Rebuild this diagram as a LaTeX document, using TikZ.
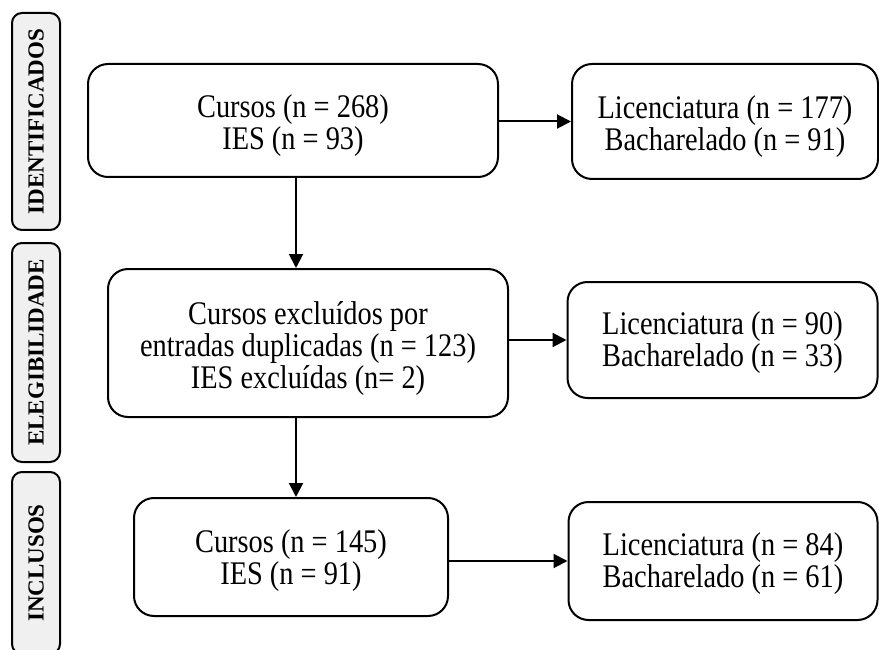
\documentclass[tikz,border=0pt]{standalone}
\usepackage{fontspec}
\setmainfont{Liberation Serif}
\newfontfamily\condserif[FakeStretch=0.86]{Liberation Serif}
\usetikzlibrary{arrows.meta,calc}
\definecolor{sidegray}{HTML}{F0F0F0}
\tikzset{
  mainbox/.style={draw=black, line width=2pt, rounded corners=20pt, inner sep=0pt},
  boxtext/.style={align=center, inner sep=0pt, font=\condserif\fontsize{33}{32}\selectfont},
  sidebox/.style={draw=black, line width=2pt, rounded corners=10pt, fill=sidegray,
    inner sep=0pt},
  sidetext/.style={rotate=90, font=\bfseries\fontsize{23}{26}\selectfont},
  arr/.style={line width=2pt, -{Triangle[length=14pt,width=14pt]}},
}
\begin{document}
\begin{tikzpicture}[x=1pt,y=-1pt]
\useasboundingbox (0,0) rectangle (879,650);
\begin{scope}
\clip (0,0) rectangle (879,650);
% side labels
\node[sidebox, minimum width=48pt, minimum height=217pt] (s1) at (36,121.5) {};
\node[sidetext] (t1) at (s1.center) {IDENTIFICADOS};
\node[sidebox, minimum width=48pt, minimum height=219pt] (s2) at (36,352.5) {};
\node[sidetext] (t2) at (s2.center) {ELEGIBILIDADE};
\node[sidebox, minimum width=48pt, minimum height=182pt] (s3) at (36,563) {};
\node[sidetext] (t3) at (s3.center) {INCLUSOS};
% main boxes
\node[mainbox, minimum width=410pt, minimum height=113pt] (b1) at (293,120.5) {};
\node[boxtext] (b1t) at ([yshift=-5pt]b1.center) {Cursos (n = 268)\\IES (n = 93)};
\node[mainbox, minimum width=306pt, minimum height=115pt] (r1) at (725,121.5) {};
\node[boxtext] (r1t) at ([yshift=-5pt]r1.center) {Licenciatura (n = 177)\\Bacharelado (n = 91)};
\node[mainbox, minimum width=400pt, minimum height=148pt] (b2) at (308,343) {};
\node[boxtext] (b2t) at ([yshift=-6pt]b2.center) {Cursos excluídos por\\entradas duplicadas (n = 123)\\IES excluídas (n= 2)};
\node[mainbox, minimum width=310pt, minimum height=116pt] (r2) at (722.5,340) {};
\node[boxtext] (r2t) at ([yshift=-3pt]r2.center) {Licenciatura (n = 90)\\Bacharelado (n = 33)};
\node[mainbox, minimum width=314pt, minimum height=118pt] (b3) at (291,557) {};
\node[boxtext] (b3t) at ([yshift=-4pt]b3.center) {Cursos (n = 145)\\IES (n = 91)};
\node[mainbox, minimum width=309pt, minimum height=118pt] (r3) at (723,561) {};
\node[boxtext] (r3t) at ([yshift=-3pt]r3.center) {Licenciatura (n = 84)\\Bacharelado (n = 61)};
\end{scope}
% connectors
\draw[arr] ([xshift=3pt]b1.south) -- ([xshift=3pt]b1.south |- b2.north);
\draw[arr] ([xshift=5pt]b3.north |- b2.south) -- ([xshift=5pt]b3.north);
\draw[arr] (b1.east |- r1.west) -- (r1.west);
\draw[arr] (b2.east |- r2.west) -- (r2.west);
\draw[arr] (b3.east |- r3.west) -- (r3.west);
\end{tikzpicture}
\end{document}
